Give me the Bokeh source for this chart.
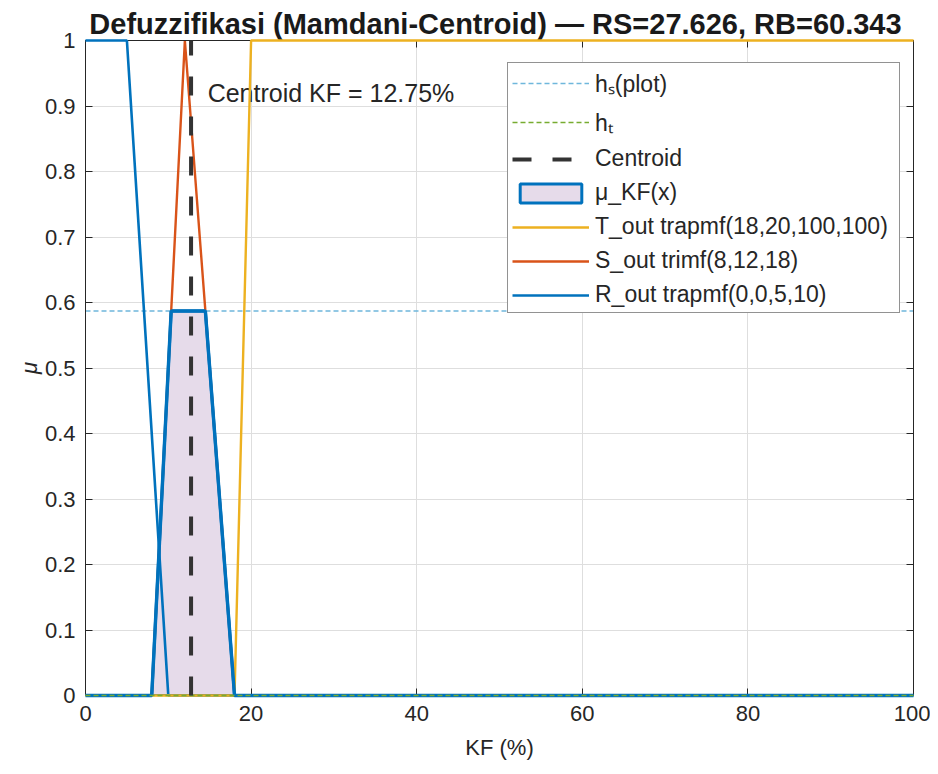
from bokeh.plotting import figure
from bokeh.models import (Range1d, LinearAxis, FixedTicker, Legend, LegendItem)
from bokeh.core.properties import value
from bokeh.embed import file_html
from bokeh.resources import INLINE

# ---------------- data ----------------
R_x = [0, 5, 10, 100]
R_y = [1, 1, 0, 0]
S_x = [0, 8, 12, 18, 100]
S_y = [0, 0, 1, 0, 0]
T_x = [0, 18, 20, 100]
T_y = [0, 0, 1, 1]
mu_x = [0, 8, 10.348, 14.478, 18, 100]
mu_y = [0, 0, 0.587, 0.587, 0, 0]
h_S = 0.587
h_T = 0.0
centroid = 12.75
RS = 27.626
RB = 60.343
x_ticks = [0, 20, 40, 60, 80, 100]
y_ticks = [0, 0.1, 0.2, 0.3, 0.4, 0.5, 0.6, 0.7, 0.8, 0.9, 1]
y_tick_labels = ["0", "0.1", "0.2", "0.3", "0.4", "0.5", "0.6", "0.7", "0.8", "0.9", "1"]
legend_labels = ["hₛ(plot)", "hₜ", "Centroid", "μ_KF(x)",
                 "T_out trapmf(18,20,100,100)", "S_out trimf(8,12,18)",
                 "R_out trapmf(0,0,5,10)"]

FONT = "Liberation Sans"
BLUE = "#0072BD"
ORANGE = "#D95319"
YELLOW = "#EDB120"
LBLUE = "#6fb7dc"
GREEN = "#77AC30"
AXC = "#262626"

p = figure(width=930, height=766, output_backend="svg", toolbar_location=None,
           x_range=Range1d(0, 100), y_range=Range1d(0, 1),
           min_border_left=85, min_border_right=17, min_border_top=40,
           min_border_bottom=71)

p.title.text = f"Defuzzifikasi (Mamdani-Centroid) —  RS={RS:.3f}, RB={RB:.3f}"
p.title.align = "center"
p.title.text_font = FONT
p.title.text_font_size = "29px"
p.title.text_font_style = "bold"
p.title.text_color = "#1a1a1a"
p.title.standoff = 2

# axes
for ax in (p.xaxis[0], p.yaxis[0]):
    ax.major_tick_in = 7
    ax.major_tick_out = 0
    ax.minor_tick_in = 0
    ax.minor_tick_out = 0
    ax.axis_line_color = AXC
    ax.major_tick_line_color = AXC
    ax.major_label_text_font = FONT
    ax.major_label_text_font_size = "22px"
    ax.major_label_text_color = AXC
    ax.axis_label_text_font = FONT
    ax.axis_label_text_font_size = "22px"
    ax.axis_label_text_color = AXC
    ax.axis_label_text_font_style = "normal"

p.xaxis.ticker = FixedTicker(ticks=x_ticks)
p.yaxis.ticker = FixedTicker(ticks=y_ticks)
p.yaxis.major_label_overrides = {t: l for t, l in zip(y_ticks, y_tick_labels)}
p.xaxis.axis_label = "KF (%)"
p.yaxis.axis_label = "μ"
p.yaxis.axis_label_text_font_style = "italic"
p.xaxis.major_label_standoff = 10
p.yaxis.major_label_standoff = 10
p.xaxis.axis_label_standoff = 11
p.yaxis.axis_label_standoff = 0

top = LinearAxis(ticker=FixedTicker(ticks=x_ticks), major_label_text_font_size="0px",
                 major_tick_in=7, major_tick_out=0, minor_tick_in=0, minor_tick_out=0,
                 axis_line_color=AXC, major_tick_line_color=AXC)
right = LinearAxis(ticker=FixedTicker(ticks=y_ticks), major_label_text_font_size="0px",
                   major_tick_in=7, major_tick_out=0, minor_tick_in=0, minor_tick_out=0,
                   axis_line_color=AXC, major_tick_line_color=AXC)
p.add_layout(top, "above")
p.add_layout(right, "right")

p.xgrid.ticker = FixedTicker(ticks=x_ticks)
p.ygrid.ticker = FixedTicker(ticks=y_ticks)
p.grid.grid_line_color = "#dedede"
p.grid.grid_line_width = 1
p.outline_line_color = None
p.background_fill_color = "white"

# ---------------- glyphs ----------------
mu_patch = p.patch(mu_x, mu_y, fill_color="#e6dbea", fill_alpha=1.0,
                   line_color=BLUE, line_width=3)
r_R = p.line(R_x, R_y, line_color=BLUE, line_width=2.6, level="overlay")
r_S = p.line(S_x, S_y, line_color=ORANGE, line_width=2.4)
r_T = p.line(T_x, T_y, line_color=YELLOW, line_width=2.4, level="overlay")
r_mu = p.line(mu_x, mu_y, line_color=BLUE, line_width=3.4, level="overlay")
r_hS = p.line([0, 100], [h_S, h_S], line_color=LBLUE, line_width=1.3, line_dash="5 3")
r_hT = p.line([0, 100], [h_T, h_T], line_color=GREEN, line_width=1.3, line_dash="5 3",
              level="overlay")
r_c = p.line([centroid, centroid], [0, 1], line_color="#333333", line_width=4,
             line_dash="19 21", level="overlay")

p.text(x=[centroid + 2], y=[0.92], text=[f"Centroid KF = {centroid:.2f}%"],
       text_font=value(FONT), text_font_size="25px", text_color=AXC,
       text_align="left", text_baseline="middle")

legend = Legend(items=[
    LegendItem(label=legend_labels[0], renderers=[r_hS]),
    LegendItem(label=legend_labels[1], renderers=[r_hT]),
    LegendItem(label=legend_labels[2], renderers=[r_c]),
    LegendItem(label=legend_labels[3], renderers=[mu_patch]),
    LegendItem(label=legend_labels[4], renderers=[r_T]),
    LegendItem(label=legend_labels[5], renderers=[r_S]),
    LegendItem(label=legend_labels[6], renderers=[r_R]),
])
legend.label_text_font = FONT
legend.label_text_font_size = "23px"
legend.label_text_color = AXC
legend.glyph_width = 77
legend.glyph_height = 24
legend.label_height = 24
legend.label_width = 300
legend.label_standoff = 6
legend.spacing = 7
legend.padding = 4
legend.margin = 0
legend.border_line_color = AXC
legend.border_line_width = 1
legend.background_fill_alpha = 1.0
legend.location = (422, 382)
p.add_layout(legend, "center")

open("out.html", "w").write(file_html(p, INLINE))
